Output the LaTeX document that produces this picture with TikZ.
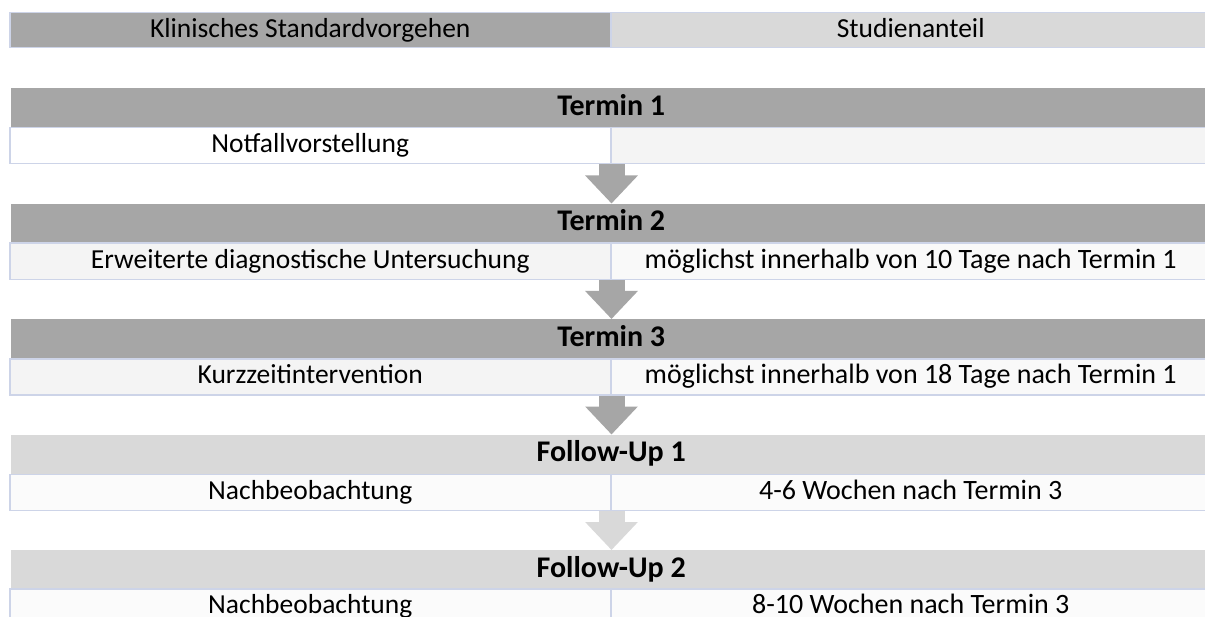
\documentclass[tikz,border=0pt]{standalone}
\usepackage{fontspec}
\setmainfont{Carlito}
\usetikzlibrary{arrows.meta}
\definecolor{darkbar}{HTML}{A6A6A6}
\definecolor{lightbar}{HTML}{D9D9D9}
\definecolor{edge}{HTML}{CDD4E8}
\definecolor{cellA}{HTML}{F4F4F4}
\definecolor{cellB}{HTML}{F9F9F9}
\definecolor{cellC}{HTML}{FBFBFB}
\tikzset{
  cell/.style={draw=edge, line width=1.5bp, rectangle, inner sep=0pt, anchor=north west,
    minimum height=36bp, font=\fontsize{27.5bp}{29bp}\selectfont, text=black,
    text height=19bp, text depth=5bp},
  leftcell/.style={cell, minimum width=601bp},
  rightcell/.style={cell, minimum width=600bp},
  bigger/.style={font=\fontsize{28bp}{30bp}\selectfont},
  bar/.style={rectangle, inner sep=0pt, anchor=north west, minimum width=1200bp,
    minimum height=39bp, font=\bfseries\fontsize{30bp}{32bp}\selectfont, text=black,
    text height=21bp, text depth=6bp},
  blockarrow/.style={line width=26bp, draw=#1,
    -{Triangle[width=51bp,length=28bp,fill=#1]}, shorten >=0pt},
}
\begin{document}
\begin{tikzpicture}[x=1bp,y=-1bp]
\clip (0,0) rectangle (1205,617);
\fill[white] (0,0) rectangle (1205,617);
% header
\node[leftcell, fill=darkbar, minimum height=35bp] (hl) at (9,12) {Klinisches Standardvorgehen};
\node[rightcell, fill=lightbar, minimum height=35bp] (hr) at (610,12) {Studienanteil};
% Termin 1
\node[bar, fill=darkbar] (b1) at (11,88) {Termin 1};
\node[leftcell, fill=white] (l1) at (9,127) {Notfallvorstellung};
\node[rightcell, fill=cellA] (r1) at (610,127) {};
% Termin 2
\node[bar, fill=darkbar] (b2) at (11,203.5) {Termin 2};
\node[leftcell, fill=cellA] (l2) at (9,242.5) {Erweiterte diagnostische Untersuchung};
\node[rightcell, bigger, fill=cellB] (r2) at (610,242.5) {möglichst innerhalb von 10 Tage nach Termin 1};
% Termin 3
\node[bar, fill=darkbar] (b3) at (11,319) {Termin 3};
\node[leftcell, fill=cellA] (l3) at (9,358) {Kurzzeitintervention};
\node[rightcell, bigger, fill=cellB] (r3) at (610,358) {möglichst innerhalb von 18 Tage nach Termin 1};
% Follow-Up 1
\node[bar, fill=lightbar] (b4) at (11,434.5) {Follow-Up 1};
\node[leftcell, fill=cellC] (l4) at (9,473.5) {Nachbeobachtung};
\node[rightcell, bigger, fill=cellC] (r4) at (610,473.5) {4-6 Wochen nach Termin 3};
% Follow-Up 2
\node[bar, fill=lightbar] (b5) at (11,550) {Follow-Up 2};
\node[leftcell, fill=cellC] (l5) at (9,588) {Nachbeobachtung};
\node[rightcell, bigger, fill=cellC] (r5) at (610,588) {8-10 Wochen nach Termin 3};
% arrows
\draw[blockarrow=darkbar] (l1.south east) -- (l1.south east |- b2.north);
\draw[blockarrow=darkbar] (l2.south east) -- (l2.south east |- b3.north);
\draw[blockarrow=darkbar] (l3.south east) -- (l3.south east |- b4.north);
\draw[blockarrow=lightbar] (l4.south east) -- (l4.south east |- b5.north);
\end{tikzpicture}
\end{document}
